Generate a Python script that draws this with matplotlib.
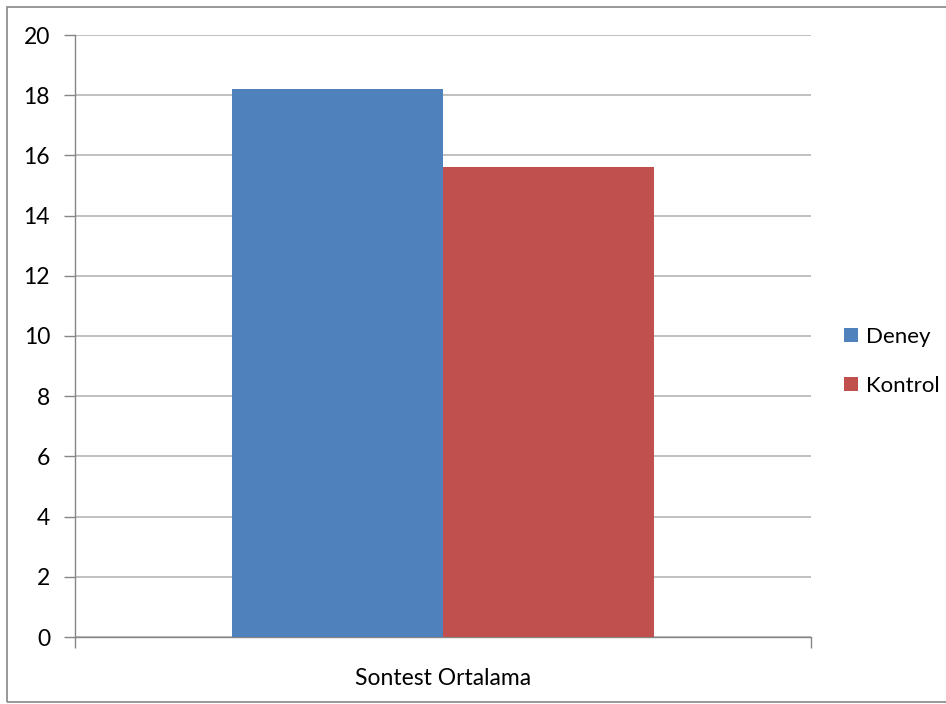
import numpy as np
import matplotlib.pyplot as plt
from matplotlib.patches import Rectangle

plt.rcParams['font.family'] = ['Lato', 'DejaVu Sans']

categories = ['Sontest Ortalama']
series_names = ['Deney', 'Kontrol']
deney = [18.2]
kontrol = [15.6]
colors = ['#4F81BD', '#C0504D']
y_ticks = np.arange(0, 21, 2)

fig = plt.figure(figsize=(9.46, 7.04), dpi=100)
ax = fig.add_axes([75 / 946, 67 / 704, 736 / 946, 602 / 704])

x = np.arange(len(categories))
w = 0.2867
ax.bar(x - w / 2, deney, w, color=colors[0], label=series_names[0], zorder=3)
ax.bar(x + w / 2, kontrol, w, color=colors[1], label=series_names[1], zorder=3)

ax.set_xlim(-0.5, 0.5)
ax.set_ylim(0, 20)
ax.set_yticks(y_ticks)
ax.yaxis.grid(True, color='#b5b5b5', linewidth=1.2, zorder=0)
ax.set_axisbelow(True)

# x ticks at the category boundaries, label in the middle
ax.set_xticks([-0.5, 0.5])
ax.set_xticklabels(['', ''])
ax.set_xticks(x, minor=True)
ax.set_xticklabels(categories, minor=True, fontsize=16.5)
ax.tick_params(axis='x', which='minor', length=0, pad=22)
ax.tick_params(axis='x', which='major', length=8, color='#868686', width=1)
ax.tick_params(axis='y', length=8, color='#868686', width=1, labelsize=16.5, pad=10)

for s in ['top', 'right']:
    ax.spines[s].set_visible(False)
for s in ['left', 'bottom']:
    ax.spines[s].set_color('#868686')
    ax.spines[s].set_linewidth(1)

ax.legend(loc='center left', bbox_to_anchor=(1.017, 0.458), frameon=False,
          fontsize=16, handlelength=0.65, handleheight=0.65, handletextpad=0.35,
          labelspacing=1.3, borderaxespad=0.5)

# outer chart frame
fig.patches.append(Rectangle((7 / 946, 2 / 704), 1.0, 695 / 704,
                             transform=fig.transFigure, fill=False,
                             edgecolor='#868686', linewidth=1.2))

fig.savefig('out.png', dpi=100)
